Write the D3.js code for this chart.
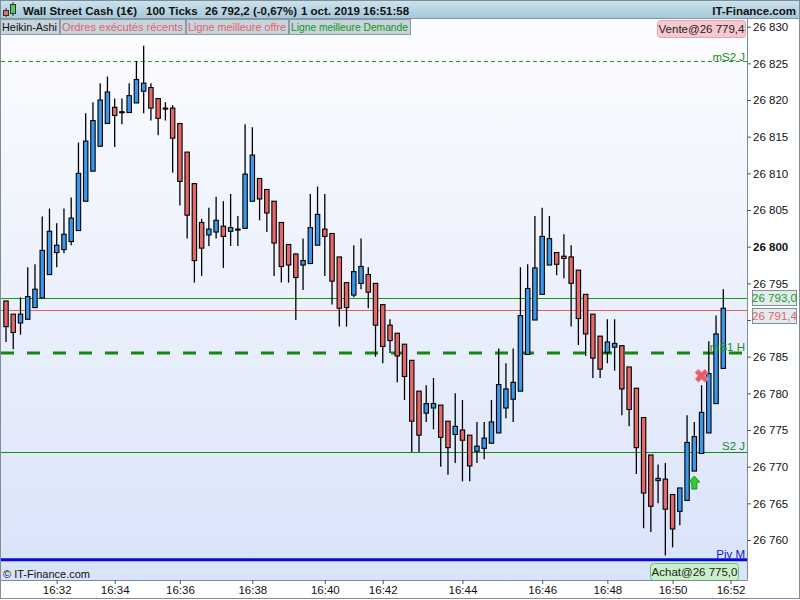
<!DOCTYPE html>
<html><head><meta charset="utf-8">
<script src="https://cdn.jsdelivr.net/npm/d3@7"></script>
<style>body{margin:0;background:#fff}svg{display:block;font-family:"Liberation Sans",Arial,sans-serif}</style>
</head><body>
<svg id="c" width="800" height="600"></svg>
<script>
// ---- data ----
const opens  = [26792.6,26790.8,26789.6,26790.1,26791.7,26793.0,26796.2,26799.2,26799.6,26800.7,
26802.2,26806.2,26810.3,26813.7,26816.8,26819.0,26818.4,26818.3,26819.6,26821.2,
26821.7,26820.2,26818.9,26818.9,26816.8,26812.9,26808.6,26803.3,26801.6,26802.0,
26802.8,26802.1,26802.4,26802.5,26806.2,26809.3,26807.8,26806.2,26803.3,26800.3,
26799.0,26797.5,26797.7,26800.2,26802.4,26801.8,26798.6,26795.1,26793.4,26795.0,
26796.2,26795.0,26792.1,26789.3,26788.2,26786.7,26784.5,26780.3,26777.3,26778.0,
26778.4,26776.2,26774.4,26775.0,26774.3,26772.1,26772.5,26773.2,26774.6,26778.0,
26779.2,26780.3,26785.3,26790.0,26793.5,26797.5,26799.2,26798.7,26798.6,26796.8,
26793.5,26790.8,26787.8,26785.6,26786.3,26786.5,26783.6,26780.7,26776.7,26771.6,
26768.1,26768.3,26766.2,26763.9,26765.4,26769.4,26771.8,26774.6,26778.6,26783.4];
const highs  = [26792.6,26790.8,26793.1,26797.2,26797.6,26804.1,26805.2,26803.2,26805.2,26806.7,
26814.2,26818.2,26819.7,26822.3,26823.2,26820.2,26820.2,26822.3,26825.3,26827.4,
26822.3,26820.2,26819.7,26819.3,26816.8,26812.9,26808.6,26803.8,26805.3,26806.8,
26806.2,26807.2,26804.2,26816.7,26816.3,26809.3,26807.8,26806.2,26803.3,26800.3,
26799.1,26801.1,26807.2,26808.2,26807.2,26801.8,26798.6,26795.1,26800.2,26801.1,
26797.2,26795.0,26792.1,26790.1,26788.2,26786.7,26784.5,26780.3,26781.1,26782.1,
26778.4,26776.2,26780.0,26779.1,26774.3,26776.1,26776.1,26779.1,26786.1,26784.1,
26786.1,26797.2,26797.6,26804.2,26805.3,26804.2,26799.2,26801.7,26800.2,26796.8,
26793.5,26790.8,26787.8,26790.1,26790.1,26786.5,26783.6,26780.7,26776.7,26771.6,
26770.3,26770.5,26766.2,26767.1,26777.0,26776.1,26781.1,26787.1,26790.6,26794.2];
const lows   = [26787.0,26786.0,26788.0,26790.1,26791.6,26793.0,26796.2,26797.2,26799.1,26800.2,
26802.2,26806.2,26810.3,26813.7,26816.8,26813.6,26816.7,26818.3,26819.6,26818.2,
26817.2,26815.2,26817.2,26810.1,26805.6,26801.1,26795.1,26796.0,26800.1,26801.1,
26797.1,26800.1,26800.1,26802.5,26806.2,26803.6,26802.0,26796.0,26795.1,26795.1,
26790.0,26794.1,26797.7,26800.2,26796.0,26792.1,26789.1,26789.1,26793.1,26794.2,
26791.6,26785.0,26784.1,26785.5,26781.5,26779.1,26772.0,26772.0,26776.1,26775.1,
26770.0,26768.9,26770.5,26768.0,26768.0,26770.5,26771.0,26773.2,26774.6,26776.6,
26776.1,26780.3,26785.3,26790.0,26793.5,26797.5,26796.1,26795.7,26789.1,26786.6,
26785.1,26782.1,26782.1,26784.1,26783.1,26777.0,26775.5,26769.0,26761.6,26761.1,
26765.0,26757.9,26759.0,26762.0,26765.4,26769.4,26771.8,26774.6,26778.6,26783.4];
const closes = [26789.1,26788.3,26790.8,26793.2,26794.2,26799.5,26802.1,26800.2,26801.7,26803.9,
26810.0,26814.4,26817.2,26820.0,26821.1,26817.9,26818.4,26820.6,26822.8,26822.3,
26818.9,26817.5,26818.9,26814.8,26808.9,26804.3,26798.1,26799.8,26802.4,26803.6,
26801.4,26802.6,26802.4,26809.9,26812.5,26806.5,26804.6,26800.5,26797.3,26797.5,
26795.8,26798.1,26802.6,26804.4,26801.4,26795.3,26791.6,26791.7,26796.6,26797.3,
26793.8,26789.3,26786.4,26787.2,26785.1,26782.3,26776.2,26774.3,26778.6,26778.6,
26774.0,26772.6,26775.5,26773.6,26770.1,26772.8,26773.9,26776.1,26781.2,26780.6,
26781.5,26790.6,26794.3,26797.1,26801.4,26801.1,26797.6,26798.4,26795.0,26790.2,
26788.1,26784.8,26783.3,26787.0,26786.8,26780.6,26777.8,26772.6,26766.4,26764.6,
26768.4,26764.2,26761.5,26767.1,26773.3,26774.1,26777.4,26782.7,26788.1,26791.6];

const timeLabels = ["16:32","16:34","16:36","16:38","16:40","16:42","16:44","16:46","16:48","16:50","16:52"];
const timeLabelIndex = [7,15,24,34,44,52,63,74,83,92,100];
const yTickValues = [26760,26765,26770,26775,26780,26785,26790,26795,26800,26805,26810,26815,26820,26825,26830];
const yHiddenTick = 26790; // covered by the price tags

const levelNames  = ["mS2 J","mS1 H","S2 J","Piv M"];
const levelValues = [26825.3,26785.5,26772.0,26757.3];
const bidLevel = 26793.0;   // Ligne meilleure Demande
const askLevel = 26791.4;   // Ligne meilleure offre
const sellIndex = 96, sellPrice = 26782.4;
const buyIndex = 95,  buyPrice = 26767.9;

const headerParts = ["Wall Street Cash (1€)","100 Ticks","26 792,2 (-0,67%)","1 oct. 2019 16:51:58"];
const legendItems = ["Heikin-Ashi","Ordres exécutés récents","Ligne meilleure offre","Ligne meilleure Demande"];

// ---- layout ----
const svg = d3.select("#c");
const plotL = 1, plotR = 747, plotT = 19, plotB = 580;
const x = d3.scaleLinear().domain([0, 99]).range([6, 723.3]);
const y = d3.scaleLinear().domain([26760, 26830]).range([540, 26.7]);
const yc = v => Math.round(y(v)) + 0.5;
const fmt = v => d3.format(",.0f")(v).replace(/,/g, " ");
const fmt1 = v => d3.format(",.1f")(v).replace(/,/g, " ").replace(".", ",");

const defs = svg.append("defs");
const g1 = defs.append("linearGradient").attr("id","plotbg").attr("x1",0).attr("x2",0).attr("y1",0).attr("y2",1);
g1.append("stop").attr("offset","0%").attr("stop-color","#fcfdff");
g1.append("stop").attr("offset","100%").attr("stop-color","#d9e3f9");
const g2 = defs.append("linearGradient").attr("id","hdrbg").attr("x1",0).attr("x2",0).attr("y1",0).attr("y2",1);
g2.append("stop").attr("offset","0%").attr("stop-color","#cde3ee");
g2.append("stop").attr("offset","100%").attr("stop-color","#a9c8d8");
defs.append("clipPath").attr("id","clip").append("rect").attr("x",plotL).attr("y",plotT).attr("width",plotR-plotL).attr("height",plotB-plotT);

// plot background
svg.append("rect").attr("x",plotL).attr("y",plotT).attr("width",plotR-plotL).attr("height",plotB-plotT).attr("fill","url(#plotbg)");

// header
svg.append("rect").attr("x",0).attr("y",0).attr("width",800).attr("height",18).attr("fill","url(#hdrbg)");
svg.append("line").attr("x1",0).attr("x2",800).attr("y1",18.5).attr("y2",18.5).attr("stroke","#7f96a4");
// icon
const ic = svg.append("g");
ic.append("line").attr("x1",6).attr("x2",6).attr("y1",8).attr("y2",17).attr("stroke","#333");
ic.append("rect").attr("x",3.5).attr("y",10.5).attr("width",5).attr("height",5).attr("fill","#e86a6a").attr("stroke","#333");
ic.append("line").attr("x1",13).attr("x2",13).attr("y1",2).attr("y2",16).attr("stroke","#333");
ic.append("rect").attr("x",10.5).attr("y",4.5).attr("width",5).attr("height",9).attr("fill","#4fd24f").attr("stroke","#333");
const hx = [23, 146, 205, 301];
svg.selectAll(".hdr").data(headerParts).join("text").attr("class","hdr")
  .attr("x",(d,i)=>hx[i]).attr("y",15).attr("font-size",11.5).attr("font-weight","bold").attr("fill","#111").text(d=>d);
svg.append("text").attr("x",796).attr("y",15).attr("text-anchor","end").attr("font-size",11.5).attr("font-weight","bold").attr("fill","#111").text("IT-Finance.com");

// legend buttons
const legX = [0, 60, 186, 289, 411];
const legCol = ["#111","#e06464","#e06464","#149614"];
const lg = svg.selectAll(".leg").data(legendItems).join("g").attr("class","leg");
lg.append("rect").attr("x",(d,i)=>legX[i]+0.5).attr("y",19.5).attr("width",(d,i)=>legX[i+1]-legX[i]-1).attr("height",15)
  .attr("fill","#c7d4dd").attr("stroke","#8a9ba7");
lg.append("text").attr("x",(d,i)=>legX[i]+2).attr("y",31).attr("font-size",11).attr("fill",(d,i)=>legCol[i])
  .attr("textLength",(d,i)=>legX[i+1]-legX[i]-5).attr("lengthAdjust","spacingAndGlyphs").text(d=>d);

// horizontal levels
const pl = svg.append("g").attr("clip-path","url(#clip)");
pl.append("line").attr("x1",plotL).attr("x2",plotR).attr("y1",yc(levelValues[0])).attr("y2",yc(levelValues[0]))
  .attr("stroke","#2a962a").attr("stroke-width",1).attr("stroke-dasharray","4,3");
pl.append("line").attr("x1",plotL).attr("x2",plotR).attr("y1",y(levelValues[1])).attr("y2",y(levelValues[1]))
  .attr("stroke","#13880f").attr("stroke-width",3).attr("stroke-dasharray","13,13");
pl.append("line").attr("x1",plotL).attr("x2",plotR).attr("y1",yc(levelValues[2])).attr("y2",yc(levelValues[2]))
  .attr("stroke","#148c14").attr("stroke-width",1);
pl.append("line").attr("x1",plotL).attr("x2",plotR).attr("y1",y(levelValues[3])).attr("y2",y(levelValues[3]))
  .attr("stroke","#0a0ad8").attr("stroke-width",3);
pl.append("line").attr("x1",plotL).attr("x2",plotR).attr("y1",yc(bidLevel)).attr("y2",yc(bidLevel))
  .attr("stroke","#0e9e0e").attr("stroke-width",1);
pl.append("line").attr("x1",plotL).attr("x2",plotR).attr("y1",yc(askLevel)).attr("y2",yc(askLevel))
  .attr("stroke","#e65e5e").attr("stroke-width",1);

// candles
const idx = d3.range(opens.length);
const cg = pl.append("g");
cg.selectAll(".wick").data(idx).join("line").attr("class","wick")
  .attr("x1",i=>x(i)).attr("x2",i=>x(i)).attr("y1",i=>y(highs[i])).attr("y2",i=>y(lows[i]))
  .attr("stroke","#000").attr("stroke-width",1.3);
cg.selectAll(".body").data(idx).join("rect").attr("class","body")
  .attr("x",i=>x(i)-2.2).attr("width",4.4)
  .attr("y",i=>y(Math.max(opens[i],closes[i])))
  .attr("height",i=>Math.max(1,Math.abs(y(opens[i])-y(closes[i]))))
  .attr("fill",i=>closes[i]>opens[i]?"#3a97ec":closes[i]<opens[i]?"#e56767":"#000")
  .attr("stroke","#000").attr("stroke-width",1.1);

// level labels
const lvlY = [y(levelValues[0])-4, y(levelValues[1])-6, y(levelValues[2])-6, y(levelValues[3])-6];
const lvlCol = ["#1a8a1a","#1a8a1a","#1a8a1a","#1010e0"];
svg.selectAll(".lvl").data(levelNames).join("text").attr("class","lvl")
  .attr("x",745).attr("y",(d,i)=>lvlY[i]+4).attr("text-anchor","end").attr("font-size",11.5)
  .attr("fill",(d,i)=>lvlCol[i]).text(d=>d);

// markers
const sx = x(sellIndex), sy = y(sellPrice);
const cross = svg.append("g").attr("transform",`translate(${sx},${sy}) rotate(45)`);
cross.append("path").attr("d","M-2.5,-7H2.5V-2.5H7V2.5H2.5V7H-2.5V2.5H-7V-2.5H-2.5Z")
  .attr("fill","#ee5a66").attr("stroke","#d9bcc6").attr("stroke-width",0.8);
const bx = x(buyIndex), by = y(buyPrice);
svg.append("path").attr("transform",`translate(${bx},${by})`)
  .attr("d","M0,-6L5.5,0H2.5V7H-2.5V0H-5.5Z").attr("fill","#33cc33").attr("stroke","#1b8f1b").attr("stroke-width",1);

// order boxes
function box(x0,y0,w,h,fill,stroke,txt,col){
  svg.append("rect").attr("x",x0+0.5).attr("y",y0+0.5).attr("width",w).attr("height",h).attr("rx",3)
    .attr("fill",fill).attr("stroke",stroke);
  svg.append("text").attr("x",x0+w/2+0.5).attr("y",y0+h/2+4.5).attr("text-anchor","middle")
    .attr("font-size",11.5).attr("fill",col).text(txt);
}
box(657,20,88,17,"#f6c8cf","#e7a3ae","Vente@"+fmt1(26779.4),"#222");
box(650,563,88,17,"#c9f1c9","#62c862","Achat@"+fmt1(26775.0),"#222");

// copyright
svg.append("text").attr("x",3).attr("y",578).attr("font-size",11).attr("fill","#111").text("© IT-Finance.com");

// axes area backgrounds
svg.append("rect").attr("x",0).attr("y",plotB+0.5).attr("width",800).attr("height",20).attr("fill","#fff");
svg.append("rect").attr("x",plotR+0.5).attr("y",plotT).attr("width",53).attr("height",plotB-plotT).attr("fill","#fff");

// y axis
const yAxis = d3.axisRight(y).tickValues(yTickValues).tickSize(4).tickPadding(2)
  .tickFormat(v => v === yHiddenTick ? "" : fmt(v));
const ya = svg.append("g").attr("transform",`translate(${plotR},0)`).call(yAxis);
ya.select(".domain").attr("stroke","#7d8e99").attr("d",`M0.5,${plotT}V${plotB}`);
ya.selectAll(".tick line").attr("stroke","#555");
ya.selectAll(".tick text").attr("font-size",11.5).attr("fill","#111").attr("font-family","Liberation Sans, Arial")
  .attr("font-weight",d=>d===26800?"bold":"normal");

// price tags on axis
function tag(y0,txt,col){
  svg.append("rect").attr("x",752.5).attr("y",y0+0.5).attr("width",44).attr("height",15)
    .attr("fill","#e3eaf0").attr("stroke","#7f909b");
  svg.append("text").attr("x",774.5).attr("y",y0+12).attr("text-anchor","middle").attr("font-size",11.5).attr("fill",col).text(txt);
}
tag(Math.round(y(bidLevel))-8, fmt1(bidLevel), "#16a016");
tag(Math.round(y(askLevel))-2, fmt1(askLevel), "#e06464");

// x axis
const xAxis = d3.axisBottom(x).tickValues(timeLabelIndex).tickSize(4).tickPadding(2).tickFormat((d,i)=>timeLabels[i]);
const xa = svg.append("g").attr("transform",`translate(0,${plotB})`).call(xAxis);
xa.select(".domain").attr("stroke","#7d8e99").attr("d",`M0,0.5H${plotR+0.5}`);
xa.selectAll(".tick line").attr("stroke","#555");
xa.selectAll(".tick text").attr("font-size",11.5).attr("fill","#111").attr("font-family","Liberation Sans, Arial");

// outer border
svg.append("line").attr("x1",0.5).attr("x2",0.5).attr("y1",19).attr("y2",599).attr("stroke","#7d8e99");
svg.append("rect").attr("x",0.5).attr("y",0.5).attr("width",799).attr("height",598).attr("fill","none").attr("stroke","#7d8e99");
</script>
</body></html>
